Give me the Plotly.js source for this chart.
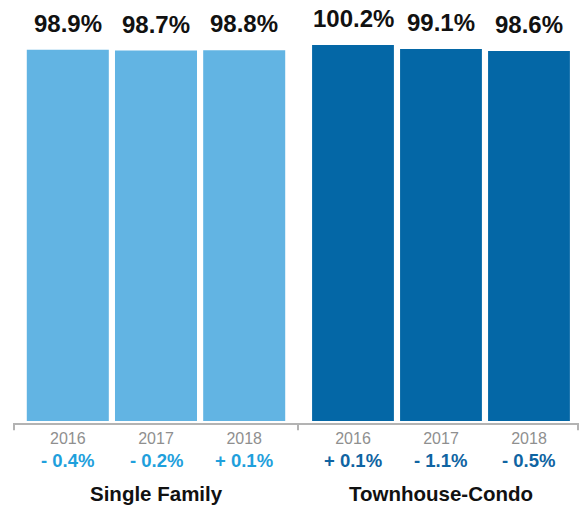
<!DOCTYPE html>
<html><head><meta charset="utf-8">
<script src="https://cdn.plot.ly/plotly-3.0.1.min.js"></script>
<style>html,body{margin:0;padding:0;background:#fff}#chart{width:579px;height:509px}</style>
</head><body><div id="chart"></div>
<script>
const years = ["2016", "2017", "2018"];
const groups = ["Single Family", "Townhouse-Condo"];
const singleFamily = [98.9, 98.7, 98.8];
const townhouseCondo = [100.2, 99.1, 98.6];
const singleFamilyChange = ["- 0.4%", "- 0.2%", "+ 0.1%"];
const townhouseCondoChange = ["+ 0.1%", "- 1.1%", "- 0.5%"];

const lightBlue = "#62b4e3";
const darkBlue = "#0467a6";
const lightText = "#1fa0dc";
const darkText = "#0f64a2";
const FONT = "Liberation Sans, Arial, Helvetica, sans-serif";

const series = [
  {vals: singleFamily, chg: singleFamilyChange, color: lightBlue, tcolor: lightText, xa: "x"},
  {vals: townhouseCondo, chg: townhouseCondoChange, color: darkBlue, tcolor: darkText, xa: "x2"}
];

const traces = series.map(s => ({
  type: "bar", x: years, y: s.vals, xaxis: s.xa, yaxis: "y",
  marker: {color: s.color}, hoverinfo: "skip", showlegend: false
}));

const annotations = [];
series.forEach((s, gi) => {
  years.forEach((yr, i) => {
    annotations.push({
      xref: s.xa, yref: "y", x: i, y: s.vals[i], yanchor: "bottom", yshift: 11,
      text: "<b>" + s.vals[i].toFixed(1) + "%</b>", showarrow: false,
      font: {family: FONT, size: 24, color: "#111111"}
    });
    annotations.push({
      xref: s.xa, yref: "paper", x: i, y: -0.092, yanchor: "middle",
      text: "<b>" + s.chg[i] + "</b>", showarrow: false,
      font: {family: FONT, size: 18.5, color: s.tcolor}
    });
  });
  annotations.push({
    xref: s.xa, yref: "paper", x: 1, y: -0.175, yanchor: "middle",
    text: "<b>" + groups[gi] + "</b>", showarrow: false,
    font: {family: FONT, size: 20.5, color: "#111111"}
  });
});

const tickShape = (xr, xv) => ({
  type: "line", xref: xr + " domain", yref: "y domain", x0: xv, x1: xv, y0: 0, y1: -0.018,
  line: {color: "#b3b3b3", width: 2}
});
const shapes = [tickShape("x", 0), tickShape("x2", 0), tickShape("x2", 1)];

const xCommon = {
  type: "category", showgrid: false, zeroline: false, showline: true,
  linecolor: "#b3b3b3", linewidth: 2, ticks: "", fixedrange: true,
  tickfont: {family: FONT, size: 16, color: "#8f8f8f"}
};

const split = 284 / 564;
const layout = {
  width: 579, height: 509,
  margin: {l: 14, r: 1, t: 20, b: 86},
  paper_bgcolor: "#fff", plot_bgcolor: "#fff",
  bargap: 0.07,
  xaxis: Object.assign({}, xCommon, {domain: [0, split], range: [-0.61, 2.61], anchor: "y"}),
  xaxis2: Object.assign({}, xCommon, {domain: [split, 1], range: [-0.625, 2.557], anchor: "y"}),
  yaxis: {range: [-0.53, 106.86], visible: false, showgrid: false, zeroline: false, fixedrange: true},
  annotations: annotations,
  shapes: shapes,
  showlegend: false
};

Plotly.newPlot("chart", traces, layout, {displayModeBar: false});
</script>
</body></html>
